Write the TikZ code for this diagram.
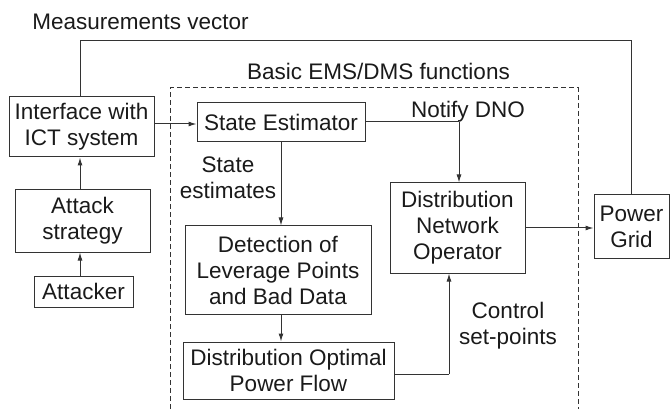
\documentclass[tikz,border=0pt]{standalone}
\usepackage{fontspec}
\setmainfont{Liberation Sans}
\usetikzlibrary{arrows.meta}
\newcommand{\diagfont}{\fontsize{22.5}{26}\selectfont}
\definecolor{lc}{HTML}{333333}
\definecolor{tc}{HTML}{1A1A1A}
\begin{document}
\begin{tikzpicture}[x=1pt,y=-1pt,
  box/.style={draw=lc, line width=1pt, inner sep=0pt, align=center, font=\diagfont, text=tc},
  lbl/.style={inner sep=0pt, align=center, font=\diagfont, text=tc},
  conn/.style={draw=lc, line width=1pt},
  arr/.style={conn, -{Latex[length=8pt,width=5pt]}},
  dashbox/.style={draw=lc, line width=1pt, dash pattern=on 5pt off 3pt}]
\useasboundingbox (0,0) rectangle (670,409);

% boxes
\node[box, minimum width=145pt, minimum height=60pt] (iface) at (81.5,127) {Interface with\\ICT system};
\node[box, minimum width=135pt, minimum height=62pt] (attack) at (82.5,221) {Attack\\strategy};
\node[box, minimum width=99pt, minimum height=31pt] (attacker) at (83.5,291.5) {Attacker};
\node[box, minimum width=168pt, minimum height=39pt] (se) at (281,122.5) {State Estimator};
\node[box, minimum width=135pt, minimum height=90pt] (dno) at (457.5,228) {Distribution\\Network\\Operator};
\node[box, minimum width=186pt, minimum height=88pt] (det) at (278,270) {Detection of\\Leverage Points\\and Bad Data};
\node[box, minimum width=211pt, minimum height=57pt] (dopf) at (288.5,370.5) {Distribution Optimal\\Power Flow};
\node[box, minimum width=75pt, minimum height=63pt] (grid) at (631.5,226.5) {Power\\Grid};

% dashed group
\coordinate (dbl) at (170,409);
\coordinate (dtl) at (170,88);
\coordinate (dtr) at (578,88);
\coordinate (dbr) at (578,409);
\draw[dashbox] (dbl) -- (dtl) -- (dtr) -- (dbr);

% labels
\node[lbl, anchor=base] (mvlbl) at (140.5,30) {Measurements vector};
\node[lbl, anchor=base] (emslbl) at (378.5,80) {Basic EMS/DMS functions};
\node[lbl, anchor=base] (notlbl) at (468,118) {Notify DNO};
\node[lbl] (selbl) at (228,178) {State\\estimates};
\node[lbl] (ctllbl) at (508,326) {Control\\set-points};

% connectors
\coordinate (mx) at (80,41);
\coordinate (ay) at (170,124);
\coordinate (nx) at (459,122);
\coordinate (cx) at (449,374);
\draw[conn] (iface.north -| mx) -- (mx) -| (grid.north);
\draw[arr] (attack.north -| mx) -- (iface.south -| mx);
\draw[arr] (attacker.north -| mx) -- (attack.south -| mx);
\draw[arr] (iface.east |- ay) -- (se.west |- ay);
\draw[conn] (se.east |- nx) -- (nx);
\draw[arr] (nx) -- (nx |- dno.north);
\draw[arr] (se.south) -- (se.south |- det.north);
\draw[arr] (det.south -| se.south) -- (dopf.north -| se.south);
\draw[conn] (dopf.east |- cx) -- (cx);
\draw[arr] (cx) -- (cx |- dno.south);
\draw[arr] (dno.east) -- (dno.east -| grid.west);
\end{tikzpicture}
\end{document}
